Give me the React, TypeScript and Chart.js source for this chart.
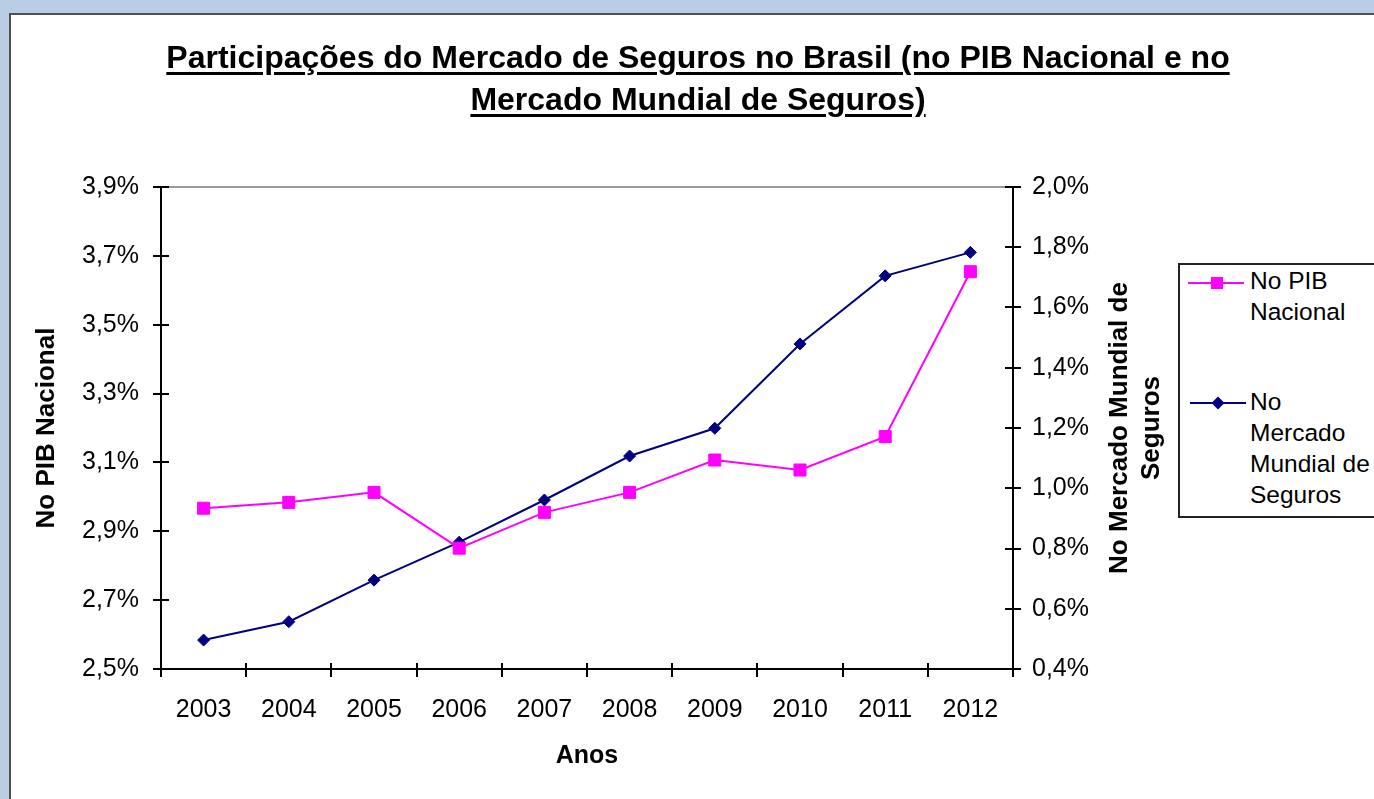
import React, { useEffect, useRef } from "react";
import { Chart, registerables } from "chart.js";

Chart.register(...registerables);

const FONT = '"Liberation Sans", Arial, Helvetica, sans-serif';

const years = ["2003", "2004", "2005", "2006", "2007", "2008", "2009", "2010", "2011", "2012"];
const pibValues = [2.967, 2.984, 3.013, 2.851, 2.955, 3.013, 3.107, 3.078, 3.175, 3.654];
const mundialValues = [0.496, 0.557, 0.695, 0.821, 0.961, 1.107, 1.199, 1.479, 1.705, 1.783];
const leftTickLabels = ["2,5%", "2,7%", "2,9%", "3,1%", "3,3%", "3,5%", "3,7%", "3,9%"];
const rightTickLabels = ["0,4%", "0,6%", "0,8%", "1,0%", "1,2%", "1,4%", "1,6%", "1,8%", "2,0%"];

const titleLines = [
  "Participações do Mercado de Seguros no Brasil (no PIB Nacional e no",
  "Mercado Mundial de Seguros)",
];
const pibLabel = "No PIB Nacional";
const mundialLabelLines = ["No Mercado Mundial de", "Seguros"];
const xTitle = "Anos";

const PINK = "#ff00ff";
const NAVY = "#000080";

const crossTicks = {
  id: "crossTicks",
  afterDraw(chart: any) {
    const { ctx, chartArea, scales } = chart;
    ctx.save();
    ctx.strokeStyle = "#000";
    ctx.lineWidth = 2;
    const y = scales.y;
    y.ticks.forEach((_t: any, i: number) => {
      const p = Math.round(y.getPixelForTick(i));
      ctx.beginPath();
      ctx.moveTo(chartArea.left, p);
      ctx.lineTo(chartArea.left + 8, p);
      ctx.stroke();
    });
    const y1 = scales.y1;
    y1.ticks.forEach((_t: any, i: number) => {
      const p = Math.round(y1.getPixelForTick(i));
      ctx.beginPath();
      ctx.moveTo(chartArea.right - 8, p);
      ctx.lineTo(chartArea.right, p);
      ctx.stroke();
    });
    const x = scales.x;
    for (let i = 0; i <= years.length; i++) {
      const p = Math.round(x.getPixelForValue(i - 0.5));
      ctx.beginPath();
      ctx.moveTo(p, chartArea.bottom - 6);
      ctx.lineTo(p, chartArea.bottom);
      ctx.stroke();
    }
    ctx.restore();
  },
};

export default function App() {
  const ref = useRef<HTMLCanvasElement | null>(null);

  useEffect(() => {
    if (!ref.current) return;
    Chart.defaults.font.family = FONT;
    const chart = new Chart(ref.current, {
      type: "line",
      data: {
        labels: years,
        datasets: [
          {
            label: pibLabel,
            data: pibValues,
            yAxisID: "y",
            borderColor: PINK,
            backgroundColor: PINK,
            borderWidth: 2,
            pointStyle: "rect",
            pointRadius: 8.5,
            pointBorderWidth: 1,
            pointBackgroundColor: PINK,
            pointBorderColor: PINK,
            tension: 0,
          },
          {
            label: mundialLabelLines.join(" "),
            data: mundialValues,
            yAxisID: "y1",
            borderColor: NAVY,
            backgroundColor: NAVY,
            borderWidth: 2,
            pointStyle: "rectRot",
            pointRadius: 6,
            pointBorderWidth: 1,
            pointBackgroundColor: NAVY,
            pointBorderColor: NAVY,
            tension: 0,
          },
        ],
      },
      options: {
        animation: false,
        responsive: false,
        maintainAspectRatio: false,
        devicePixelRatio: 1,
        layout: { padding: { top: 187, left: 0, right: 0, bottom: 0 } },
        plugins: {
          legend: { display: false },
          title: { display: false },
          tooltip: { enabled: false },
        },
        scales: {
          x: {
            type: "category",
            offset: true,
            grid: {
              offset: true,
              drawOnChartArea: false,
              drawTicks: true,
              tickLength: 8,
              tickColor: "#000",
              tickWidth: 2,
              lineWidth: 2,
            },
            border: { display: true, color: "#000", width: 2 },
            ticks: { color: "#000", font: { size: 25 }, padding: 18, maxRotation: 0 },
            title: {
              display: true,
              text: xTitle,
              color: "#000",
              font: { size: 25, weight: "bold" },
              padding: { top: 0, bottom: 28 },
            },
            afterFit: (s: any) => {
              s.height = 130;
            },
          },
          y: {
            type: "linear",
            position: "left",
            min: 2.5,
            max: 3.9,
            ticks: {
              stepSize: 0.2,
              color: "#000",
              font: { size: 25 },
              padding: 14,
              callback: (_v: any, i: number) => leftTickLabels[i],
            },
            grid: {
              drawOnChartArea: true,
              color: (c: any) => (c.index === leftTickLabels.length - 1 ? "#9a9a9a" : "rgba(0,0,0,0)"),
              lineWidth: 2,
              tickColor: "#000",
              tickLength: 8,
              tickWidth: 2,
            },
            border: { display: true, color: "#000", width: 2 },
            title: {
              display: true,
              text: pibLabel,
              color: "#000",
              font: { size: 26, weight: "bold" },
              padding: { top: 31, bottom: 0 },
            },
            afterFit: (s: any) => {
              s.width = 161;
            },
          },
          y1: {
            type: "linear",
            position: "right",
            min: 0.4,
            max: 2.0,
            ticks: {
              stepSize: 0.2,
              color: "#000",
              font: { size: 25 },
              padding: 11,
              callback: (_v: any, i: number) => rightTickLabels[i],
            },
            grid: {
              drawOnChartArea: false,
              tickColor: "#000",
              tickLength: 8,
              tickWidth: 2,
              lineWidth: 2,
            },
            border: { display: true, color: "#000", width: 2 },
            title: { display: false },
            afterFit: (s: any) => {
              s.width = 1374 - 1013;
            },
          },
        },
      },
      plugins: [crossTicks],
    } as any);
    return () => chart.destroy();
  }, []);

  const textBase: React.CSSProperties = {
    position: "absolute",
    fontFamily: FONT,
    color: "#000",
    whiteSpace: "nowrap",
  };

  return (
    <div
      style={{
        position: "fixed",
        left: 0,
        top: 0,
        width: 1374,
        height: 799,
        overflow: "hidden",
        background: "#b9cde5",
      }}
    >
      <div
        style={{
          position: "absolute",
          left: 9,
          top: 13,
          width: 1420,
          height: 840,
          background: "#ffffff",
          border: "2px solid #505050",
          boxSizing: "border-box",
        }}
      />
      <canvas
        ref={ref}
        width={1374}
        height={799}
        style={{ position: "absolute", left: 0, top: 0, width: 1374, height: 799 }}
      />
      {titleLines.map((t, i) => (
        <div
          key={i}
          style={{
            ...textBase,
            left: 0,
            width: 1396,
            top: 36 + i * 42,
            textAlign: "center",
            fontSize: 32,
            fontWeight: "bold",
            lineHeight: "42px",
          }}
        >
          <span
            style={{
              textDecoration: "underline",
              textDecorationThickness: "3px",
              textUnderlineOffset: "4px",
            }}
          >
            {t}
          </span>
        </div>
      ))}
      <div
        style={{
          ...textBase,
          left: 1134 - 200,
          top: 428 - 32,
          width: 400,
          height: 64,
          textAlign: "center",
          fontSize: 26,
          fontWeight: "bold",
          lineHeight: "32px",
          transform: "rotate(-90deg)",
          transformOrigin: "50% 50%",
        }}
      >
        {mundialLabelLines.map((l, i) => (
          <div key={i}>{l}</div>
        ))}
      </div>
      <div
        style={{
          position: "absolute",
          left: 1178,
          top: 263,
          width: 260,
          height: 255,
          border: "2px solid #222",
          boxSizing: "border-box",
          background: "#fff",
        }}
      />
      <svg style={{ position: "absolute", left: 1188, top: 275 }} width={58} height={16}>
        <line x1={0} y1={8} x2={56} y2={8} stroke={PINK} strokeWidth={2} />
        <rect x={23} y={2} width={12} height={12} fill={PINK} />
      </svg>
      <svg style={{ position: "absolute", left: 1190, top: 395 }} width={58} height={16}>
        <line x1={0} y1={8} x2={56} y2={8} stroke={NAVY} strokeWidth={2} />
        <polygon points="28,1.5 34.5,8 28,14.5 21.5,8" fill={NAVY} />
      </svg>
      <div style={{ ...textBase, left: 1250, top: 265, fontSize: 24.5, lineHeight: "31px" }}>
        <div>No PIB</div>
        <div>Nacional</div>
      </div>
      <div style={{ ...textBase, left: 1250, top: 386, fontSize: 24.5, lineHeight: "31px" }}>
        <div>No</div>
        <div>Mercado</div>
        <div>Mundial de</div>
        <div>Seguros</div>
      </div>
    </div>
  );
}
